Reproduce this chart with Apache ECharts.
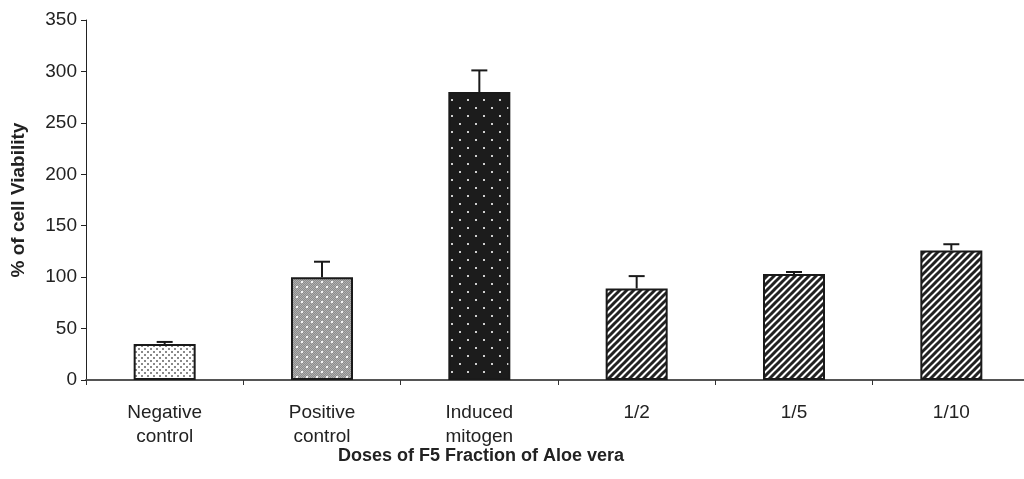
<!DOCTYPE html>
<html><head><meta charset="utf-8">
<script src="https://cdn.jsdelivr.net/npm/echarts@6/dist/echarts.min.js"></script>
<style>html,body{margin:0;padding:0;background:#fff}#c{width:1024px;height:479px}</style>
</head><body><div id="c"></div>
<script>
const categories = ['Negative\ncontrol','Positive\ncontrol','Induced\nmitogen','1/2','1/5','1/10'];
const means = [35, 100, 280, 89, 103, 126];
const errors = [2, 15, 21, 12, 2, 6];
const yTicks = [0, 50, 100, 150, 200, 250, 300, 350];

function tile(w, h, draw){ const c=document.createElement('canvas'); c.width=w; c.height=h; const g=c.getContext('2d'); draw(g,w,h); return c; }
const pNeg = tile(6,6,(g)=>{g.fillStyle='#fff';g.fillRect(0,0,6,6);g.fillStyle='#8a8a8a';g.fillRect(0,0,2,2);g.fillRect(3,3,2,2);});
const pPos = tile(10,10,(g)=>{g.fillStyle='#8c8c8c';g.fillRect(0,0,10,10);g.fillStyle='#b0b0b0';for(let y=0;y<10;y++)for(let x=0;x<10;x++)if((x+y)%2===0)g.fillRect(x,y,1,1);g.fillStyle='#f4f4f4';g.fillRect(1,1,2,2);g.fillRect(6,6,2,2);});
const pInd = tile(16,16,(g)=>{g.fillStyle='#1c1c1c';g.fillRect(0,0,16,16);g.fillStyle='#d0d0d0';g.fillRect(3,3,2,2);g.fillRect(11,11,2,2);});
const pStr = tile(7,7,(g)=>{g.fillStyle='#fff';g.fillRect(0,0,7,7);g.strokeStyle='#222';g.lineWidth=3;g.beginPath();for(let k=-1;k<=1;k++){g.moveTo(k*7-1,8);g.lineTo(k*7+8,-1);}g.stroke();});
const patterns = [pNeg,pPos,pInd,pStr,pStr,pStr];

const chart = echarts.init(document.getElementById('c'));
chart.setOption({
  animation:false,
  grid:{left:86, top:20, width:944, height:360, containLabel:false, outerBoundsMode:'none'},
  xAxis:{type:'category', data:categories,
    axisLine:{lineStyle:{color:'#555', width:2}},
    axisTick:{show:true, length:5, lineStyle:{color:'#333'}},
    axisLabel:{color:'#222', fontSize:19, fontFamily:'Liberation Sans', lineHeight:24, margin:21}
  },
  yAxis:{type:'value', min:0, max:350, interval:50,
    name:'% of cell Viability', nameLocation:'middle', nameGap:58,
    nameTextStyle:{fontSize:19, fontWeight:'bold', color:'#222', fontFamily:'Liberation Sans'},
    axisLine:{show:true, lineStyle:{color:'#222', width:1}},
    axisTick:{show:true, length:5, lineStyle:{color:'#222'}},
    splitLine:{show:false},
    axisLabel:{color:'#222', fontSize:19, fontFamily:'Liberation Sans', margin:9,
      formatter:(v)=> yTicks.includes(v) ? String(v) : ''}
  },
  graphic:[{type:'text', left:338, top:447, style:{text:'Doses of F5 Fraction of Aloe vera', font:'bold 18px "Liberation Sans"', fill:'#222'}}],
  series:[
    {type:'bar', barWidth:62, z:2,
      data: means.map((v,i)=>({value:v, itemStyle:{color:{image:patterns[i], repeat:'repeat'}, borderColor:'#1a1a1a', borderWidth:2}}))},
    {type:'custom', z:3,
      data: means.map((v,i)=>[i, v, v+errors[i]]),
      renderItem:(params, api)=>{
        const i=api.value(0);
        const a=api.coord([i, api.value(1)]);
        const b=api.coord([i, api.value(2)]);
        const hw=8;
        return {type:'group', children:[
          {type:'line', shape:{x1:a[0], y1:a[1], x2:b[0], y2:b[1]}, style:{stroke:'#1a1a1a', lineWidth:2}},
          {type:'line', shape:{x1:b[0]-hw, y1:b[1], x2:b[0]+hw, y2:b[1]}, style:{stroke:'#1a1a1a', lineWidth:2}}
        ]};
      }}
  ]
});
</script></body></html>
